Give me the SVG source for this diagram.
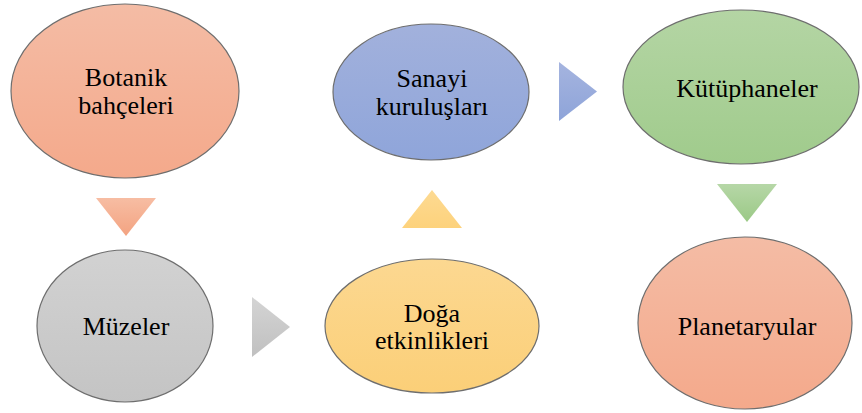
<svg xmlns="http://www.w3.org/2000/svg" width="862" height="413" viewBox="0 0 862 413">
<defs>
<linearGradient id="gOrange" x1="0" y1="0" x2="0" y2="1"><stop offset="0" stop-color="#F4BCA5"/><stop offset="1" stop-color="#F4A98B"/></linearGradient>
<linearGradient id="gBlue" x1="0" y1="0" x2="0" y2="1"><stop offset="0" stop-color="#A2B1DC"/><stop offset="1" stop-color="#8FA5DA"/></linearGradient>
<linearGradient id="gGreen" x1="0" y1="0" x2="0" y2="1"><stop offset="0" stop-color="#B4D5A4"/><stop offset="1" stop-color="#A0CB8C"/></linearGradient>
<linearGradient id="gGray" x1="0" y1="0" x2="0" y2="1"><stop offset="0" stop-color="#D2D2D2"/><stop offset="1" stop-color="#C4C4C4"/></linearGradient>
<linearGradient id="gYellow" x1="0" y1="0" x2="0" y2="1"><stop offset="0" stop-color="#FCD891"/><stop offset="1" stop-color="#FBCF78"/></linearGradient>
<linearGradient id="tOrange" x1="0" y1="0" x2="0" y2="1"><stop offset="0" stop-color="#F7BDA3"/><stop offset="1" stop-color="#F3A381"/></linearGradient>
<linearGradient id="tGray" x1="0" y1="0" x2="0" y2="1"><stop offset="0" stop-color="#D4D4D4"/><stop offset="1" stop-color="#C0C0C0"/></linearGradient>
<linearGradient id="tYellow" x1="0" y1="0" x2="0" y2="1"><stop offset="0" stop-color="#FDDA92"/><stop offset="1" stop-color="#FDD27C"/></linearGradient>
<linearGradient id="tBlue" x1="0" y1="0" x2="0" y2="1"><stop offset="0" stop-color="#A5B4DF"/><stop offset="1" stop-color="#8EA4D9"/></linearGradient>
<linearGradient id="tGreen" x1="0" y1="0" x2="0" y2="1"><stop offset="0" stop-color="#B6D7A7"/><stop offset="1" stop-color="#9BC986"/></linearGradient>
</defs>
<style>
.node ellipse{stroke:#6e6e6e;stroke-width:1.2}
.node text{font-family:"Liberation Serif","Times New Roman",serif;font-size:26px;fill:#000;text-anchor:middle}
</style>
<g id="connectors">
<polygon points="96,198 156,198 126,236" fill="url(#tOrange)"/>
<polygon points="252,297 290,327 252,357" fill="url(#tGray)"/>
<polygon points="402,228 462,228 432,190" fill="url(#tYellow)"/>
<polygon points="559,62 597,91.5 559,121" fill="url(#tBlue)"/>
<polygon points="717,184 777,184 747,222" fill="url(#tGreen)"/>
</g>
<g id="botanik" class="node">
<ellipse cx="125" cy="91" rx="114" ry="87" fill="url(#gOrange)"/>
<text x="126" y="86">Botanik</text>
<text x="126" y="114">bahçeleri</text>
</g>
<g id="muzeler" class="node">
<ellipse cx="125" cy="326" rx="88" ry="76" fill="url(#gGray)"/>
<text x="126" y="335">Müzeler</text>
</g>
<g id="doga" class="node">
<ellipse cx="432" cy="326" rx="107" ry="67" fill="url(#gYellow)"/>
<text x="432" y="322">Doğa</text>
<text x="432" y="349">etkinlikleri</text>
</g>
<g id="sanayi" class="node">
<ellipse cx="431" cy="92" rx="98" ry="68" fill="url(#gBlue)"/>
<text x="432" y="87">Sanayi</text>
<text x="432" y="115">kuruluşları</text>
</g>
<g id="kutuphaneler" class="node">
<ellipse cx="741" cy="87" rx="118" ry="77" fill="url(#gGreen)"/>
<text x="747" y="97">Kütüphaneler</text>
</g>
<g id="planetaryular" class="node">
<ellipse cx="745" cy="323" rx="107" ry="86" fill="url(#gOrange)"/>
<text x="747" y="335">Planetaryular</text>
</g>
</svg>
